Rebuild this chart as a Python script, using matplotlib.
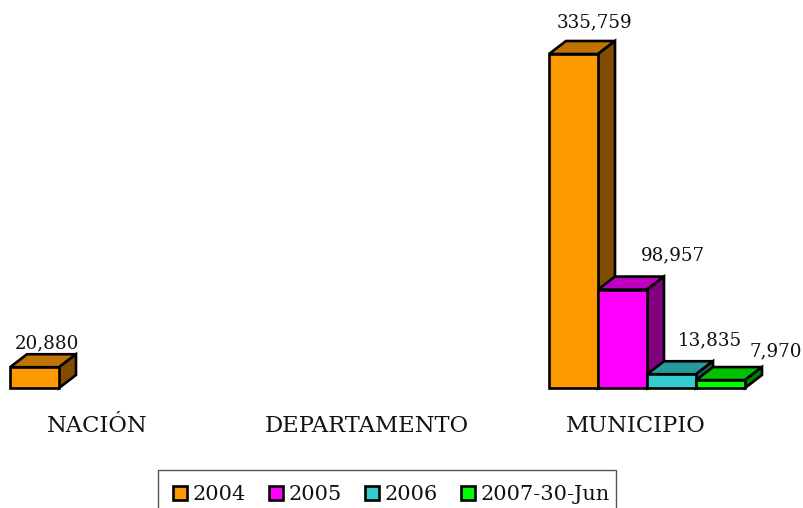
import matplotlib
matplotlib.use("Agg")
import matplotlib.pyplot as plt
from matplotlib.patches import Patch, Polygon, Rectangle

plt.rcParams['font.family'] = ['DejaVu Serif']

categories = ["NACIÓN", "DEPARTAMENTO", "MUNICIPIO"]
series_names = ["2004", "2005", "2006", "2007-30-Jun"]
values_2004 = [20880, 0, 335759]
values_2005 = [0, 0, 98957]
values_2006 = [0, 0, 13835]
values_2007 = [0, 0, 7970]
all_values = [values_2004, values_2005, values_2006, values_2007]

# front, top, side
colors = [("#FF9900", "#C07300", "#804D00"),
          ("#FF00FF", "#C000C0", "#800080"),
          ("#33CCCC", "#269999", "#1A6666"),
          ("#00FF00", "#00C000", "#008000")]

# label shifts in pixels, the labels were moved by hand in the original
label_shift = {(0, 0): 4, (2, 0): 12, (2, 1): 42, (2, 2): 29.5, (2, 3): 47}
label_rise = {(0, 0): 1.5, (2, 0): 9.5, (2, 1): 12.5, (2, 2): 11.5, (2, 3): 6.5}

W, H = 804, 508
BASE_Y = 388
LEFT_X = 10
GROUP_W = 269.5
PX_PER_UNIT = 334 / 335759
BAR_W = 49 / GROUP_W
DX = 17 / GROUP_W
DY = 13 / PX_PER_UNIT
LW = 1.9

fig = plt.figure(figsize=(W / 100, H / 100), dpi=100)
ax = fig.add_axes([LEFT_X / W, (H - BASE_Y) / H, 3 * GROUP_W / W, BASE_Y / H])
ax.set_xlim(0, 3)
ax.set_ylim(0, BASE_Y / PX_PER_UNIT)
ax.patch.set_visible(False)
for s in ax.spines.values():
    s.set_visible(False)
ax.set_yticks([])
ax.set_xticks([i + 0.323 for i in range(3)])
ax.set_xticklabels(categories, fontsize=16.3, color="#111111")
ax.tick_params(axis='x', length=0, pad=19.5)


def draw_bar(x, v, front, top, side):
    kw = dict(edgecolor="black", linewidth=LW, joinstyle="miter", clip_on=False)
    ax.add_patch(Polygon([(x, v), (x + DX, v + DY), (x + BAR_W + DX, v + DY), (x + BAR_W, v)], facecolor=top, **kw))
    ax.add_patch(Polygon([(x + BAR_W, 0), (x + BAR_W + DX, DY), (x + BAR_W + DX, v + DY), (x + BAR_W, v)], facecolor=side, **kw))
    ax.add_patch(Polygon([(x, 0), (x + BAR_W, 0), (x + BAR_W, v), (x, v)], facecolor=front, **kw))


for g in range(len(categories)):
    for j, vals in enumerate(all_values):
        v = vals[g]
        if v == 0:
            continue
        x = g + j * BAR_W
        draw_bar(x, v, *colors[j])
        ax.annotate(f"{v:,}", (x + BAR_W / 2 + DX / 2, v + DY),
                    xytext=(label_shift[(g, j)] * 0.72, label_rise[(g, j)] * 0.72),
                    textcoords="offset points", ha="center", va="bottom",
                    fontsize=13.2, color="#111111", annotation_clip=False)

# legend box runs off the bottom of the picture
fig.add_artist(Rectangle((158 / W, -0.04), 458 / W, (H - 470) / H + 0.04, transform=fig.transFigure,
                         facecolor="white", edgecolor="#555555", linewidth=1))

handles = [Patch(facecolor=c[0], edgecolor="black", linewidth=LW) for c in colors]
leg = fig.legend(handles, series_names, ncol=4, loc="upper left",
                 bbox_to_anchor=(158 / W, (H - 470) / H), borderaxespad=0,
                 fontsize=15, frameon=False,
                 handlelength=0.67, handleheight=0.67, handletextpad=0.29,
                 columnspacing=1.09, borderpad=0.72, labelcolor="#111111")

fig.savefig("out.png", dpi=100)
